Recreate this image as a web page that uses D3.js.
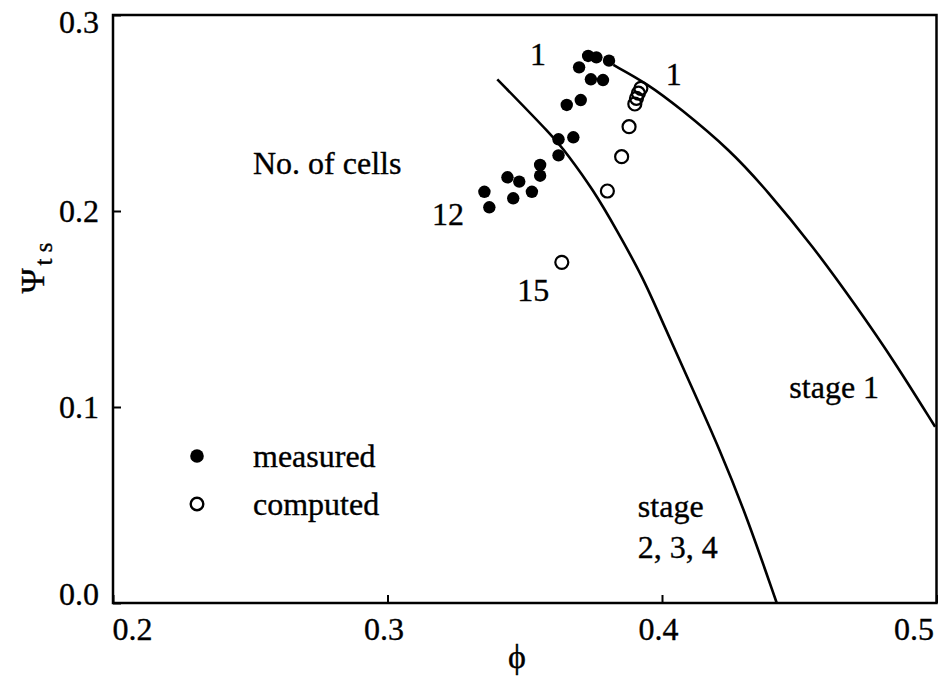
<!DOCTYPE html>
<html>
<head>
<meta charset="utf-8">
<script src="https://cdn.jsdelivr.net/npm/d3@7/dist/d3.min.js"></script>
<style>
  html, body { margin: 0; padding: 0; background: #fff; }
  svg text { font-family: "Liberation Serif", "Times New Roman", serif; fill: #000; stroke: #000; stroke-width: 0.35px; }
</style>
</head>
<body>
<svg id="chart" width="938" height="680"></svg>
<script>
// ---- data ----
const xTicks = [0.2, 0.3, 0.4, 0.5];
const yTicks = [0.0, 0.1, 0.2, 0.3];

const measuredPhi = [0.3731, 0.3761, 0.3807, 0.3698, 0.3741, 0.3785, 0.3653, 0.3704, 0.3623, 0.3677,
                     0.3623, 0.3556, 0.3556, 0.3437, 0.3480, 0.3353, 0.3526, 0.3458, 0.3371];
const measuredPsi = [0.2791, 0.2784, 0.2767, 0.2733, 0.2672, 0.2668, 0.2541, 0.2566, 0.2366, 0.2376,
                     0.2284, 0.2235, 0.2180, 0.2172, 0.2150, 0.2098, 0.2098, 0.2065, 0.2019];

const computedPhi = [0.3923, 0.3914, 0.3907, 0.3901, 0.3880, 0.3853, 0.3801, 0.3635];
const computedPsi = [0.2626, 0.2601, 0.2575, 0.2546, 0.2430, 0.2277, 0.2102, 0.1738];

const stage1Phi = [0.3823, 0.3944, 0.4066, 0.4248, 0.4381, 0.4551, 0.4709, 0.4843, 0.4995];
const stage1Psi = [0.2745, 0.2652, 0.2524, 0.2311, 0.2107, 0.1818, 0.1512, 0.1240, 0.0899];

const stage234Phi = [0.3400, 0.3604, 0.3653, 0.3750, 0.3835, 0.3932, 0.3993, 0.4102, 0.4211, 0.4309, 0.4418];
const stage234Psi = [0.2672, 0.2379, 0.2294, 0.2107, 0.1903, 0.1657, 0.1461, 0.1121, 0.0781, 0.0440, 0.0000];

const legendLabels = ["measured", "computed"];

// ---- chart ----
const svg = d3.select("#chart");
const x = d3.scaleLinear().domain([0.2, 0.5]).range([113, 936.5]);
const y = d3.scaleLinear().domain([0.0, 0.3]).range([603, 15]);
const FS = 32;

// axes
const gx = svg.append("g").attr("transform", `translate(0,${y(0)})`)
  .call(d3.axisBottom(x).tickValues(xTicks).tickSize(-8).tickPadding(14).tickFormat(d3.format(".1f")));
const gy = svg.append("g").attr("transform", `translate(${x(0.2)},0)`)
  .call(d3.axisLeft(y).tickValues(yTicks).tickSize(-8).tickPadding(14).tickFormat(d3.format(".1f")));
[gx, gy].forEach(g => {
  g.select(".domain").remove();
  g.selectAll(".tick line").attr("stroke", "#000").attr("stroke-width", 2);
  g.selectAll(".tick text").attr("font-family", "Liberation Serif, serif").attr("font-size", FS).attr("fill", "#000");
});
gx.selectAll(".tick text").attr("text-anchor", (d) => d === 0.2 ? "start" : d === 0.5 ? "end" : "middle")
  .attr("dx", (d) => d === 0.2 ? -1 : d === 0.5 ? -3 : -4);
gy.selectAll(".tick text").attr("dy", (d) => d === 0.3 ? "0.55em" : d === 0.0 ? "0.05em" : "0.32em");

// frame
svg.append("rect")
  .attr("x", x(0.2)).attr("y", y(0.3))
  .attr("width", x(0.5) - x(0.2)).attr("height", y(0) - y(0.3))
  .attr("fill", "none").attr("stroke", "#000").attr("stroke-width", 2.5);

// curves
const line = d3.line().x(d => x(d[0])).y(d => y(d[1])).curve(d3.curveBasis);
svg.append("path").datum(d3.zip(stage1Phi, stage1Psi))
  .attr("d", line).attr("fill", "none").attr("stroke", "#000").attr("stroke-width", 2.6);
svg.append("path").datum(d3.zip(stage234Phi, stage234Psi))
  .attr("d", line).attr("fill", "none").attr("stroke", "#000").attr("stroke-width", 2.6);

// points
svg.append("g").selectAll("circle").data(d3.zip(measuredPhi, measuredPsi)).join("circle")
  .attr("cx", d => x(d[0])).attr("cy", d => y(d[1])).attr("r", 6.2).attr("fill", "#000");
svg.append("g").selectAll("circle").data(d3.zip(computedPhi, computedPsi)).join("circle")
  .attr("cx", d => x(d[0])).attr("cy", d => y(d[1])).attr("r", 6.5)
  .attr("fill", "none").attr("stroke", "#000").attr("stroke-width", 2.2);

// annotations
const ann = [
  { t: "1", px: 0.3519, py: 0.2745 },
  { t: "1", px: 0.4014, py: 0.2643 },
  { t: "12", px: 0.3162, py: 0.1930 },
  { t: "15", px: 0.3473, py: 0.1541 },
  { t: "No. of cells", px: 0.2510, py: 0.2189 },
  { t: "stage 1", px: 0.4464, py: 0.1046 }
];
svg.append("g").selectAll("text").data(ann).join("text")
  .attr("x", d => x(d.px)).attr("y", d => y(d.py)).attr("font-size", FS).text(d => d.t);

const st = svg.append("text").attr("x", x(0.3912)).attr("y", y(0.0439)).attr("font-size", FS);
st.append("tspan").text("stage");
st.append("tspan").attr("x", x(0.3912)).attr("dy", 41).text("2, 3, 4");

// legend
const lg = svg.append("g");
lg.append("circle").attr("cx", 197).attr("cy", 456).attr("r", 6.8).attr("fill", "#000");
lg.append("circle").attr("cx", 197).attr("cy", 504).attr("r", 6.3).attr("fill", "none").attr("stroke", "#000").attr("stroke-width", 2.4);
lg.selectAll("text").data(legendLabels).join("text")
  .attr("x", 253).attr("y", (d, i) => 467 + i * 48).attr("font-size", FS).text(d => d);

// axis titles
svg.append("text").attr("x", 517).attr("y", 668).attr("text-anchor", "middle")
  .attr("font-size", 34).text("\u03D5");
const yt = svg.append("text").attr("transform", "translate(44,268) rotate(-90)")
  .attr("text-anchor", "middle").attr("font-size", 34);
yt.append("tspan").text("\u03A8");
yt.append("tspan").attr("font-size", 25).attr("dy", 8).attr("dx", 3).text("t s");
</script>
</body>
</html>
